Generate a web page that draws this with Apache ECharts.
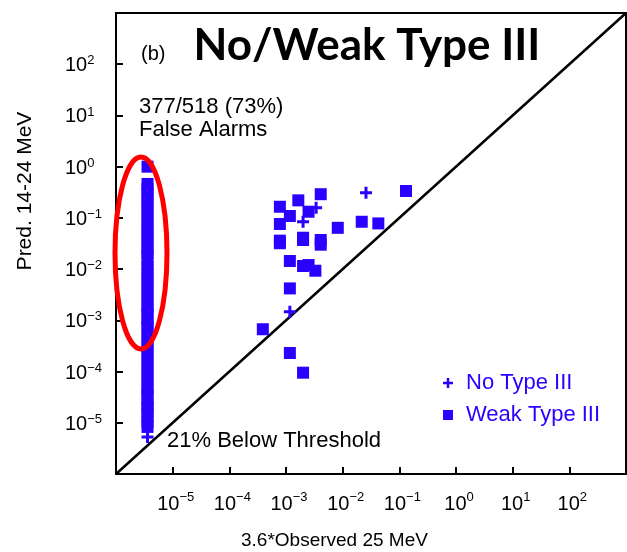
<!DOCTYPE html>
<html><head><meta charset="utf-8">
<script src="https://cdn.jsdelivr.net/npm/echarts@6/dist/echarts.min.js"></script>
<style>html,body{margin:0;padding:0;background:#fff}#c{width:627px;height:552px}</style>
</head><body><div id="c"></div>
<script>
// ---- data ----
const thresholdX = 3.6e-6;   // 3.6 * 1e-6 : events below threshold
const columnWeakY = [1.0, 0.46, 0.37, 0.29, 0.22, 0.17, 0.13, 0.098, 0.074, 0.057, 0.044, 0.034,
  0.026, 0.02, 0.015, 0.011, 0.0085, 0.0065, 0.005, 0.0038, 0.0029, 0.0022, 0.0017, 0.0013,
  0.001, 7.6e-4, 5.8e-4, 4.4e-4, 3.4e-4, 2.6e-4, 2.0e-4, 1.5e-4, 1.15e-4, 8.8e-5, 6.7e-5,
  5.1e-5, 3.9e-5, 3.0e-5, 2.3e-5, 1.75e-5, 1.35e-5, 1.05e-5, 8.3e-6];
const columnNoY = [0.021, 0.0016, 0.0009, 4.0e-5, 2.4e-5, 1.8e-5, 5.3e-6];
const clusterWeakX = [4.1e-3, 1.65e-3, 7.8e-4, 1.17e-3, 2.5e-3, 7.8e-4, 8.2e-3, 0.131, 0.0217, 0.0426,
  7.8e-4, 7.8e-4, 2.0e-3, 2.0e-3, 4.1e-3, 4.1e-3, 1.17e-3, 2.0e-3, 2.5e-3, 3.3e-3, 1.17e-3,
  3.9e-4, 1.17e-3, 2.0e-3];
const clusterWeakY = [0.29, 0.22, 0.165, 0.109, 0.132, 0.076, 0.064, 0.335, 0.084, 0.078,
  0.036, 0.032, 0.041, 0.037, 0.037, 0.030, 0.0144, 0.0115, 0.012, 0.0093, 0.0042,
  6.7e-4, 2.3e-4, 9.5e-5];
const clusterNoX = [3.4e-3, 2.0e-3, 0.0258, 1.17e-3];
const clusterNoY = [0.158, 0.084, 0.31, 1.47e-3];
const diagonalX = [1e-6, 1e3];
const diagonalY = [1e-6, 1e3];
const axisMin = 1e-6, axisMax = 1e3;

// ---- build ----
const BLUE = '#2a00ff';
const FONT = 'Liberation Sans';
const PLUS = 'path://M4.5,0H7.5V4.5H12V7.5H7.5V12H4.5V7.5H0V4.5H4.5Z';

const weakData = columnWeakY.map(y => [thresholdX, y])
  .concat(clusterWeakX.map((x, i) => [x, clusterWeakY[i]]));
const noData = columnNoY.map(y => [thresholdX, y])
  .concat(clusterNoX.map((x, i) => [x, clusterNoY[i]]));
const diagData = diagonalX.map((x, i) => [x, diagonalY[i]]);

function expLabel(v) {
  const e = Math.round(Math.log10(v));
  return '{b|10}{e|' + (e < 0 ? '\u2212' + (-e) : e) + '}';
}
function rich(padB) {
  return {
    b: { fontSize: 20, lineHeight: 20, fontFamily: FONT, color: '#000', padding: [7, 0, padB, 0] },
    e: { fontSize: 13, lineHeight: 13, fontFamily: FONT, color: '#000', verticalAlign: 'top' }
  };
}
const frameLine = { show: true, onZero: false, lineStyle: { color: '#000', width: 2 } };

const chart = echarts.init(document.getElementById('c'), null, { renderer: 'canvas' });
chart.setOption({
  animation: false,
  grid: { left: 116, top: 13, width: 510, height: 461, outerBoundsMode: 'none',
    show: true, borderColor: '#000', borderWidth: 2, backgroundColor: 'transparent' },
  xAxis: [
    { type: 'log', logBase: 10, min: axisMin, max: axisMax, splitNumber: 9, position: 'bottom',
      axisLine: frameLine, splitLine: { show: false },
      axisTick: { show: true, inside: true, length: 7, lineStyle: { color: '#010101', width: 2 } },
      axisLabel: { show: true, showMinLabel: false, showMaxLabel: false, margin: 17,
        padding: [0, 0, 0, 6], formatter: expLabel, rich: rich(0) } }
  ],
  yAxis: [
    { type: 'log', logBase: 10, min: axisMin, max: axisMax, splitNumber: 9, position: 'left',
      axisLine: frameLine, splitLine: { show: false },
      axisTick: { show: true, inside: true, length: 7, lineStyle: { color: '#050505', width: 2 } },
      axisLabel: { show: true, showMinLabel: false, showMaxLabel: false, margin: 51, align: 'left',
        formatter: expLabel, rich: rich(4) } }
  ],
  legend: {
    orient: 'vertical', left: 438, top: 367, itemWidth: 10, itemHeight: 10, itemGap: 10,
    selectedMode: false,
    formatter: '{t|{name}}',
    textStyle: { color: BLUE, fontSize: 22, fontFamily: FONT, lineHeight: 22,
      rich: { t: { color: BLUE, fontSize: 22, fontFamily: FONT, lineHeight: 22, padding: [0, 0, 0, 8] } } },
    data: [{ name: 'No Type III', icon: PLUS }, { name: 'Weak Type III', icon: 'rect' }]
  },
  series: [
    { name: 'diagonal', type: 'line', xAxisIndex: 0, yAxisIndex: 0, data: diagData, symbol: 'none',
      silent: true, lineStyle: { color: '#000', width: 2.5 }, z: 1 },
    { name: 'Weak Type III', type: 'scatter', xAxisIndex: 0, yAxisIndex: 0, symbol: 'rect', symbolSize: 12,
      itemStyle: { color: BLUE, opacity: 1 }, data: weakData, z: 2 },
    { name: 'No Type III', type: 'scatter', xAxisIndex: 0, yAxisIndex: 0, symbol: PLUS, symbolSize: 12,
      itemStyle: { color: BLUE, opacity: 1 }, data: noData, z: 3 }
  ],
  graphic: [
    { type: 'text', x: 367, y: 46, z: 10,
      style: { text: 'No/Weak Type III', font: 'bold 44px Lato', fill: '#000', align: 'center', verticalAlign: 'middle', textAlign: 'center', textVerticalAlign: 'middle' } },
    { type: 'text', x: 141, y: 54, z: 10,
      style: { text: '(b)', font: '20px "Liberation Sans"', fill: '#000', align: 'left', verticalAlign: 'middle', textAlign: 'left', textVerticalAlign: 'middle' } },
    { type: 'text', x: 139, y: 107, z: 10,
      style: { text: '377/518 (73%)', font: '22px "Liberation Sans"', fill: '#000', align: 'left', verticalAlign: 'middle', textAlign: 'left', textVerticalAlign: 'middle' } },
    { type: 'text', x: 139, y: 130, z: 10,
      style: { text: 'False Alarms', font: '22px "Liberation Sans"', fill: '#000', align: 'left', verticalAlign: 'middle', textAlign: 'left', textVerticalAlign: 'middle' } },
    { type: 'text', x: 167, y: 441, z: 10,
      style: { text: '21% Below Threshold', font: '22px "Liberation Sans"', fill: '#000', align: 'left', verticalAlign: 'middle', textAlign: 'left', textVerticalAlign: 'middle' } },
    { type: 'text', x: 241, y: 541, z: 10,
      style: { text: '3.6*Observed 25 MeV', font: '19px "Liberation Sans"', fill: '#000', align: 'left', verticalAlign: 'middle', textAlign: 'left', textVerticalAlign: 'middle' } },
    { type: 'text', x: 25, y: 191, rotation: Math.PI / 2, z: 10,
      style: { text: 'Pred. 14-24 MeV', font: '21px "Liberation Sans"', fill: '#000', align: 'center', verticalAlign: 'middle', textAlign: 'center', textVerticalAlign: 'middle' } },
    { type: 'ellipse', z: 20, shape: { cx: 141, cy: 253, rx: 26, ry: 96 },
      style: { fill: 'none', stroke: '#ff0000', lineWidth: 5 } }
  ]
});
</script>
</body></html>
